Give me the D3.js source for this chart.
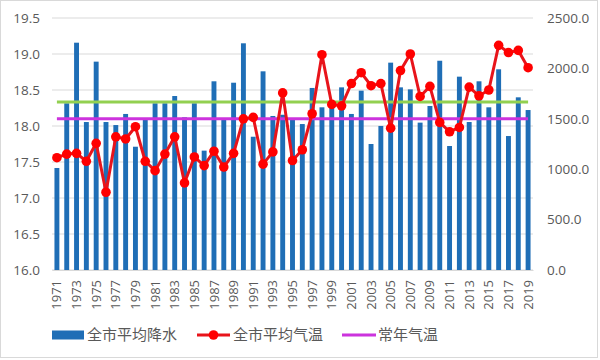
<!DOCTYPE html>
<html><head><meta charset="utf-8">
<script src="https://cdn.jsdelivr.net/npm/d3@7"></script>
<style>body{margin:0;background:#fff;}svg{display:block;}</style>
</head><body>
<svg id="c" width="600" height="360"></svg>
<script>
const years = ["1971","1972","1973","1974","1975","1976","1977","1978","1979","1980",
"1981","1982","1983","1984","1985","1986","1987","1988","1989","1990",
"1991","1992","1993","1994","1995","1996","1997","1998","1999","2000",
"2001","2002","2003","2004","2005","2006","2007","2008","2009","2010",
"2011","2012","2013","2014","2015","2016","2017","2018","2019"];
const precip = [1012,1654,2255,1468,2067,1468,1438,1548,1223,1488,
1654,1654,1726,1515,1654,1184,1872,1488,1858,2249,
1322,1971,1528,1540,1500,1448,1806,1614,1640,1812,
1548,1779,1250,1429,2057,1812,1792,1462,1627,2076,
1230,1918,1468,1872,1614,1991,1329,1713,1587];
const temp = [17.56,17.61,17.62,17.51,17.76,17.08,17.85,17.82,17.99,17.51,
17.38,17.61,17.85,17.21,17.57,17.45,17.65,17.43,17.62,18.10,
18.12,17.47,17.64,18.46,17.52,17.67,18.17,18.99,18.30,18.28,
18.59,18.74,18.56,18.59,17.97,18.77,19.00,18.41,18.55,18.05,
17.92,17.98,18.54,18.42,18.50,19.12,19.02,19.05,18.81];
const normalTemp = 18.1;
const normalPrecip = 1667;
const leftTicks = [16.0,16.5,17.0,17.5,18.0,18.5,19.0,19.5];
const rightTicks = [0,500,1000,1500,2000,2500];
const legendLabels = ["全市平均降水","全市平均气温","常年气温"];

const svg = d3.select("#c");
const L = 52, R = 533, T = 18, B = 270;
const font = "'Open Sans','Noto Sans CJK SC',sans-serif";
const cjk = "'Noto Sans CJK SC','Noto Sans',sans-serif";
const grey = "#595959";

svg.append("rect").attr("x",0.5).attr("y",0.5).attr("width",597).attr("height",357)
  .attr("fill","#fff").attr("stroke","#d9d9d9");

const x = d3.scaleBand().domain(years).range([L,R]).paddingInner(0.5).paddingOuter(0.25);
const yL = d3.scaleLinear().domain([16,19.5]).range([B,T]);
const yR = d3.scaleLinear().domain([0,2500]).range([B,T]);
const cx = d => x(d) + x.bandwidth()/2;

// grid
svg.append("g").selectAll("line").data(leftTicks).join("line")
  .attr("x1",L).attr("x2",R).attr("y1",d=>yL(d)).attr("y2",d=>yL(d))
  .attr("stroke","#d9d9d9").attr("stroke-width",1);

// left axis
const ga = svg.append("g").attr("transform",`translate(${L},0)`)
  .call(d3.axisLeft(yL).tickValues(leftTicks).tickFormat(d3.format(".1f")).tickSize(0).tickPadding(12));
ga.select(".domain").remove();
ga.selectAll("text").attr("fill",grey).attr("font-size","13.5px").attr("font-family",font);

// right axis
const gr = svg.append("g").attr("transform",`translate(${R},0)`)
  .call(d3.axisRight(yR).tickValues(rightTicks).tickFormat(d3.format(".1f")).tickSize(0).tickPadding(14));
gr.select(".domain").remove();
gr.selectAll("text").attr("fill",grey).attr("font-size","13.5px").attr("font-family",font);

// bars
svg.append("g").selectAll("rect").data(years).join("rect")
  .attr("x",d=>x(d)).attr("width",x.bandwidth())
  .attr("y",(d,i)=>yR(precip[i])).attr("height",(d,i)=>B-yR(precip[i]))
  .attr("fill","#1f6eb6");

// x axis
const gx = svg.append("g").attr("transform",`translate(0,${B})`)
  .call(d3.axisBottom(x).tickValues(years.filter((d,i)=>i%2===0)).tickSize(0).tickPadding(0));
gx.select(".domain").attr("stroke","#d9d9d9");
gx.selectAll("text").attr("fill",grey).attr("font-size","13px").attr("font-family",font)
  .attr("transform","rotate(-90)").attr("text-anchor","end").attr("dy","0.35em")
  .attr("x",-10).attr("y",0);

// normal lines
svg.append("line").attr("x1",cx(years[0])).attr("x2",cx(years[years.length-1]))
  .attr("y1",yR(normalPrecip)).attr("y2",yR(normalPrecip))
  .attr("stroke","#92d050").attr("stroke-width",3);
svg.append("line").attr("x1",cx(years[0])).attr("x2",cx(years[years.length-1]))
  .attr("y1",yL(normalTemp)).attr("y2",yL(normalTemp))
  .attr("stroke","#cc33dd").attr("stroke-width",3);

// temp line
const line = d3.line().x((d,i)=>cx(years[i])).y(d=>yL(d));
svg.append("path").datum(temp).attr("d",line).attr("fill","none")
  .attr("stroke","#e8141b").attr("stroke-width",3).attr("stroke-linejoin","round");
svg.append("g").selectAll("circle").data(temp).join("circle")
  .attr("cx",(d,i)=>cx(years[i])).attr("cy",d=>yL(d)).attr("r",4.8).attr("fill","#ff0000");

// legend
const ly = 335;
const lg = svg.append("g");
lg.append("rect").attr("x",52).attr("y",ly-4.5).attr("width",32).attr("height",9).attr("fill","#1f6eb6");
lg.append("text").attr("x",87).attr("y",ly).attr("dy","0.35em").text(legendLabels[0]);
lg.append("line").attr("x1",197).attr("x2",230).attr("y1",ly).attr("y2",ly).attr("stroke","#e8141b").attr("stroke-width",3);
lg.append("circle").attr("cx",213.5).attr("cy",ly).attr("r",4.8).attr("fill","#ff0000");
lg.append("text").attr("x",233).attr("y",ly).attr("dy","0.35em").text(legendLabels[1]);
lg.append("line").attr("x1",342).attr("x2",376).attr("y1",ly).attr("y2",ly).attr("stroke","#cc33dd").attr("stroke-width",3);
lg.append("text").attr("x",378).attr("y",ly).attr("dy","0.35em").text(legendLabels[2]);
lg.selectAll("text").attr("fill",grey).attr("font-size","15px").attr("font-family",cjk);
</script>
</body></html>
